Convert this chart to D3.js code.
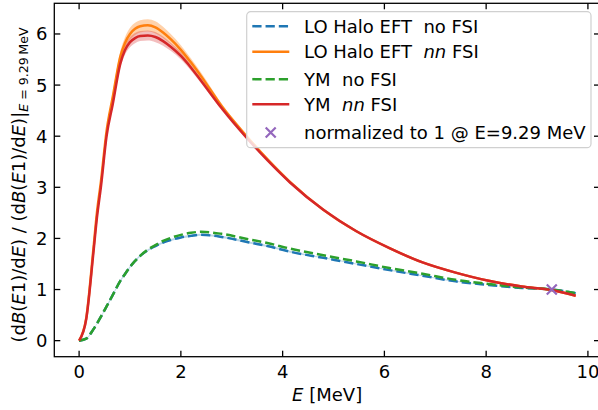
<!DOCTYPE html>
<html>
<head>
<meta charset="utf-8">
<script src="https://cdn.jsdelivr.net/npm/d3@7"></script>
<style>
  body { margin: 0; background: #fff; }
  svg text { font-family: "DejaVu Sans", sans-serif; fill: #000; }
</style>
</head>
<body>
<svg id="chart" width="598" height="410"></svg>
<script>
// Excitation energy grid [MeV]
const energy = [0, 0.14, 0.28, 0.35, 0.43, 0.54, 0.66, 0.81, 0.9, 1.0, 1.1, 1.2, 1.35, 1.5, 1.65, 1.8,
                2.0, 2.2, 2.4, 2.8, 3.3, 3.7, 4.15, 4.8, 5.45, 6.1, 6.75, 7.4, 8.05, 8.7, 9.29, 9.76];

// Normalized dB(E1)/dE curves
const haloNoFsi = [0, 0.04, 0.22, 0.33, 0.47, 0.67, 0.89, 1.17, 1.3, 1.44, 1.56, 1.66, 1.77, 1.85, 1.92, 1.97,
                   2.02, 2.05, 2.07, 2.03, 1.93, 1.85, 1.74, 1.62, 1.50, 1.38, 1.27, 1.16, 1.09, 1.03, 1.0, 0.93];
const haloNnFsi = [0, 0.44, 1.78, 2.5, 3.12, 4.1, 4.76, 5.56, 5.82, 6.0, 6.1, 6.15, 6.17, 6.13, 6.03, 5.9,
                   5.69, 5.44, 5.17, 4.59, 3.99, 3.55, 3.1, 2.56, 2.14, 1.81, 1.53, 1.33, 1.17, 1.06, 0.99, 0.88];
const ymNoFsi   = [0, 0.04, 0.22, 0.33, 0.47, 0.67, 0.89, 1.17, 1.3, 1.44, 1.56, 1.66, 1.78, 1.87, 1.95, 2.01,
                   2.07, 2.11, 2.13, 2.09, 1.99, 1.91, 1.80, 1.67, 1.55, 1.42, 1.31, 1.19, 1.11, 1.04, 1.0, 0.93];
const ymNnFsi   = [0, 0.42, 1.71, 2.4, 3.02, 4.0, 4.62, 5.42, 5.68, 5.84, 5.92, 5.96, 5.97, 5.94, 5.86, 5.75,
                   5.57, 5.34, 5.08, 4.55, 3.96, 3.53, 3.09, 2.56, 2.14, 1.81, 1.53, 1.33, 1.17, 1.06, 0.99, 0.88];

// Uncertainty half-widths of the bands
const haloNoBand = [0, 0.01, 0.01, 0.01, 0.01, 0.02, 0.02, 0.02, 0.02, 0.02, 0.02, 0.02, 0.02, 0.02, 0.02, 0.02,
                    0.02, 0.02, 0.02, 0.02, 0.02, 0.02, 0.02, 0.01, 0.01, 0.01, 0.01, 0.01, 0, 0, 0, 0];
const haloNnBand = [0, 0.01, 0.02, 0.03, 0.04, 0.06, 0.08, 0.1, 0.11, 0.12, 0.12, 0.12, 0.12, 0.12, 0.11, 0.1,
                    0.09, 0.08, 0.07, 0.05, 0.04, 0.03, 0.02, 0.01, 0.01, 0, 0, 0, 0, 0, 0, 0];
const ymNnBand   = [0, 0.01, 0.02, 0.03, 0.04, 0.05, 0.07, 0.08, 0.09, 0.1, 0.1, 0.1, 0.1, 0.1, 0.09, 0.08,
                    0.07, 0.06, 0.05, 0.04, 0.03, 0.02, 0.02, 0.01, 0.01, 0, 0, 0, 0, 0, 0, 0];

// Normalization point
const normPoint = [9.29, 1.0];

// Axis ticks
const xTicks = [0, 2, 4, 6, 8, 10];
const yTicks = [0, 1, 2, 3, 4, 5, 6];

const colors = { blue: "#1f77b4", orange: "#ff7f0e", green: "#2ca02c", red: "#d62728", purple: "#9467bd" };

const svg = d3.select("#chart");
const frame = { left: 54.3, right: 600, top: 3.3, bottom: 356.7 };

const x = d3.scaleLinear().domain([-0.4875, 10.2375]).range([frame.left, frame.right]);
const y = d3.scaleLinear().domain([-0.314, 6.6]).range([frame.bottom, frame.top]);

const plot = svg.append("g");
plot.append("clipPath").attr("id", "clip")
  .append("rect").attr("x", frame.left).attr("y", frame.top)
  .attr("width", frame.right - frame.left).attr("height", frame.bottom - frame.top);
const inner = plot.append("g").attr("clip-path", "url(#clip)");

const curve = d3.curveMonotoneX;
const toPoints = vals => energy.map((e, i) => [e, vals[i]]);
const line = d3.line().x(d => x(d[0])).y(d => y(d[1])).curve(curve);
const area = (vals, band) => d3.area().curve(curve)
  .x((d, i) => x(energy[i]))
  .y0((d, i) => y(vals[i] - band[i]))
  .y1((d, i) => y(vals[i] + band[i]))(energy);

const LW = 2.5;
const dash = "9.25,4";

// bands
inner.append("path").attr("d", area(haloNoFsi, haloNoBand)).attr("fill", colors.blue).attr("fill-opacity", 0.3);
inner.append("path").attr("d", area(haloNnFsi, haloNnBand)).attr("fill", colors.orange).attr("fill-opacity", 0.35);
inner.append("path").attr("d", area(ymNnFsi, ymNnBand)).attr("fill", colors.red).attr("fill-opacity", 0.3);

// central curves
const series = [
  { vals: haloNoFsi, color: colors.blue, dashed: true },
  { vals: haloNnFsi, color: colors.orange, dashed: false },
  { vals: ymNoFsi, color: colors.green, dashed: true },
  { vals: ymNnFsi, color: colors.red, dashed: false }
];
series.forEach(s => {
  inner.append("path").attr("d", line(toPoints(s.vals)))
    .attr("fill", "none").attr("stroke", s.color).attr("stroke-width", LW)
    .attr("stroke-dasharray", s.dashed ? dash : null)
    .attr("stroke-linejoin", "round");
});

// x marker
function cross(g, cx, cy, color) {
  const r = 5;
  g.append("path")
    .attr("d", `M${cx - r},${cy - r}L${cx + r},${cy + r}M${cx - r},${cy + r}L${cx + r},${cy - r}`)
    .attr("stroke", color).attr("stroke-width", 2.2).attr("fill", "none");
}
cross(inner, x(normPoint[0]), y(normPoint[1]), colors.purple);

// axes frame and inward ticks
const axisG = svg.append("g");
const fontSize = 18;
const tickLen = 6;
axisG.append("rect").attr("x", frame.left).attr("y", frame.top)
  .attr("width", frame.right - frame.left).attr("height", frame.bottom - frame.top)
  .attr("fill", "none").attr("stroke", "#000").attr("stroke-width", 1.3);

xTicks.forEach(t => {
  const px = x(t);
  axisG.append("line").attr("x1", px).attr("x2", px).attr("y1", frame.bottom).attr("y2", frame.bottom - tickLen)
    .attr("stroke", "#000").attr("stroke-width", 1.3);
  axisG.append("line").attr("x1", px).attr("x2", px).attr("y1", frame.top).attr("y2", frame.top + tickLen)
    .attr("stroke", "#000").attr("stroke-width", 1.3);
  axisG.append("text").attr("x", px).attr("y", 378).attr("text-anchor", "middle")
    .attr("font-size", fontSize).text(t);
});
yTicks.forEach(t => {
  const py = y(t);
  axisG.append("line").attr("x1", frame.left).attr("x2", frame.left + tickLen).attr("y1", py).attr("y2", py)
    .attr("stroke", "#000").attr("stroke-width", 1.3);
  axisG.append("line").attr("x1", frame.right).attr("x2", frame.right - tickLen).attr("y1", py).attr("y2", py)
    .attr("stroke", "#000").attr("stroke-width", 1.3);
  axisG.append("text").attr("x", 47.5).attr("y", py).attr("dy", "0.36em").attr("text-anchor", "end")
    .attr("font-size", fontSize).text(t);
});

// x-axis label
const xl = axisG.append("text").attr("x", (frame.left + frame.right) / 2).attr("y", 401)
  .attr("text-anchor", "middle").attr("font-size", fontSize);
xl.append("tspan").attr("font-style", "italic").text("E");
xl.append("tspan").text(" [MeV]");

// y-axis label
const yl = axisG.append("text")
  .attr("transform", `translate(25,185) rotate(-90)`)
  .attr("text-anchor", "middle").attr("font-size", fontSize).style("white-space", "pre");
const parts = [
  ["(d"], ["B", 1], ["("], ["E", 1], ["1)/d"], ["E", 1], [") / (d"], ["B", 1], ["("], ["E", 1], ["1)/d"], ["E", 1], [")|"]
];
parts.forEach(p => yl.append("tspan").attr("font-style", p[1] ? "italic" : null).text(p[0]));
yl.append("tspan").attr("font-size", 12.6).attr("dy", 3).attr("font-style", "italic").text("E");
yl.append("tspan").attr("font-size", 12.6).text(" = 9.29\u2009MeV");

// legend
const lg = svg.append("g");
lg.append("rect").attr("x", 246.7).attr("y", 11.7).attr("width", 344.3).attr("height", 136)
  .attr("rx", 4).attr("fill", "#fff").attr("fill-opacity", 0.8)
  .attr("stroke", "#d0d0d0").attr("stroke-width", 1.2);

const legendRows = [
  { label: [["LO Halo EFT  no FSI"]], color: colors.blue, dashed: true, base: 32.7 },
  { label: [["LO Halo EFT  "], ["nn", 1], [" FSI"]], color: colors.orange, dashed: false, base: 58.3 },
  { label: [["YM  no FSI"]], color: colors.green, dashed: true, base: 85.7 },
  { label: [["YM  "], ["nn", 1], [" FSI"]], color: colors.red, dashed: false, base: 110.7 },
  { label: [["normalized to 1 @ E=9.29 MeV"]], color: colors.purple, marker: true, base: 139 }
];
legendRows.forEach(r => {
  const cy = r.base - 6.5;
  if (r.marker) {
    cross(lg, 270.7, cy, r.color);
  } else {
    lg.append("line").attr("x1", 252.3).attr("x2", 289.3).attr("y1", cy).attr("y2", cy)
      .attr("stroke", r.color).attr("stroke-width", LW).attr("stroke-dasharray", r.dashed ? dash : null);
  }
  const t = lg.append("text").attr("x", 304).attr("y", r.base).attr("font-size", 18).style("white-space", "pre");
  r.label.forEach(p => t.append("tspan").attr("font-style", p[1] ? "italic" : null).text(p[0]));
});
</script>
</body>
</html>
